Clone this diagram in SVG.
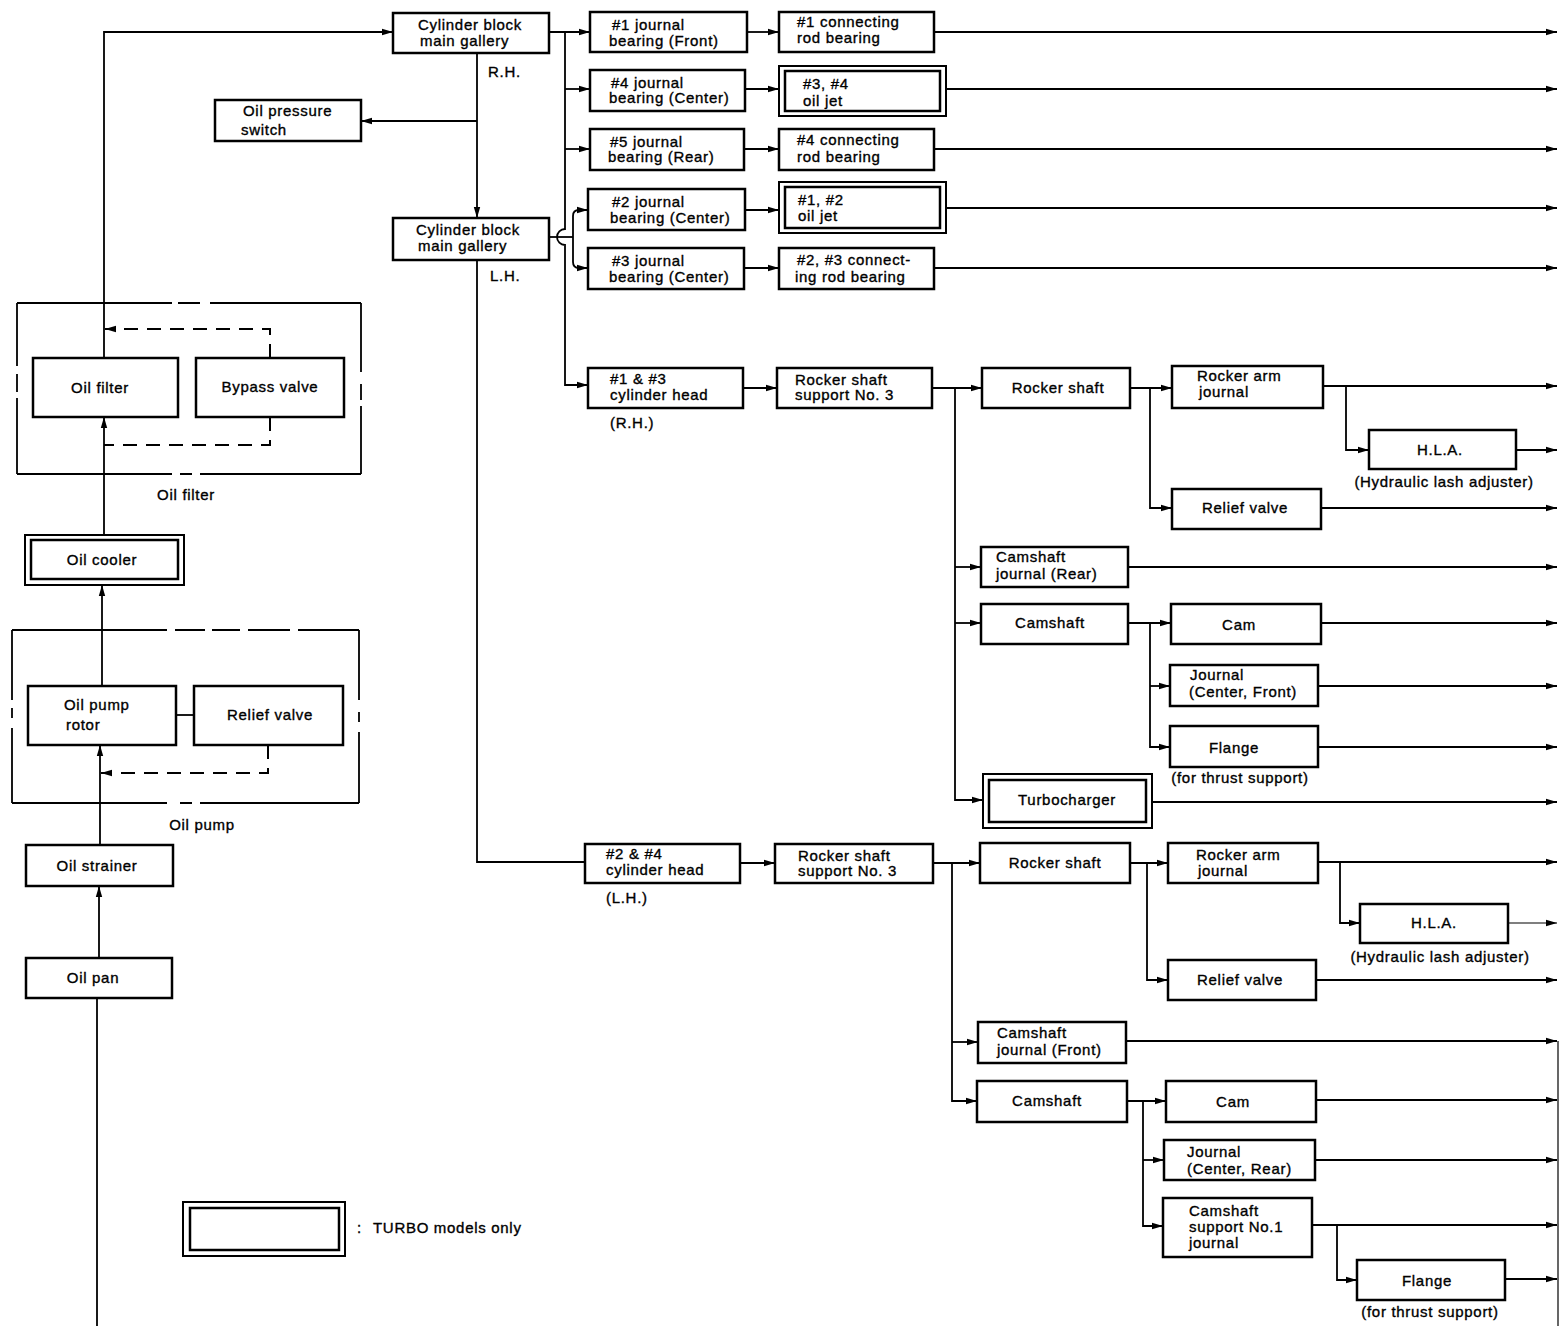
<svg xmlns="http://www.w3.org/2000/svg" width="1568" height="1326" viewBox="0 0 1568 1326">
<style>
.box{fill:#fff;stroke:#000;stroke-width:2.5}
.ob{fill:#fff;stroke:#000;stroke-width:2}
.ib{fill:none;stroke:#000;stroke-width:2.5}
.ln{fill:none;stroke:#000;stroke-width:1.8}
.thin{fill:none;stroke:#000;stroke-width:1.2}
.dash{fill:none;stroke:#000;stroke-width:2;stroke-dasharray:14 9}
.grp{fill:none;stroke:#000;stroke-width:1.8}
text{font-family:"Liberation Sans",Arial,sans-serif;font-size:15px;letter-spacing:0.7px;fill:#000;stroke:#000;stroke-width:0.35}
.c{text-anchor:middle}
</style>
<defs>
<marker id="a" markerUnits="userSpaceOnUse" markerWidth="13" markerHeight="9" refX="11" refY="4.5" orient="auto">
<path d="M0,1.3 L11,4.5 L0,7.7 Z" fill="#000"/>
</marker>
</defs>
<rect width="1568" height="1326" fill="#fff"/>

<g id="connectors">
<path class="ln" d="M97,1326 V998"/>
<path class="ln" d="M99,958 V886" marker-end="url(#a)"/>
<path class="ln" d="M100,845 V745" marker-end="url(#a)"/>
<path class="dash" d="M268,745 V773 H101" marker-end="url(#a)"/>
<path class="ln" d="M176,715 H194"/>
<path class="ln" d="M102,686 V585" marker-end="url(#a)"/>
<path class="ln" d="M104,535 V417" marker-end="url(#a)"/>
<path class="dash" d="M270,417 V445 H104"/>
<path class="dash" d="M270,358 V329 H105" marker-end="url(#a)"/>
<path class="ln" d="M104,358 V32 H393" marker-end="url(#a)"/>
<path class="ln" d="M477,53 V218" marker-end="url(#a)"/>
<path class="ln" d="M477,121 H361" marker-end="url(#a)"/>
<path class="ln" d="M549,32 H590" marker-end="url(#a)"/>
<path class="ln" d="M565,32 V229 A8,8 0 0 0 565,245 V385 H588" marker-end="url(#a)"/>
<path class="ln" d="M565,89 H590" marker-end="url(#a)"/>
<path class="ln" d="M565,149 H590" marker-end="url(#a)"/>
<path class="ln" d="M549,237 H573"/>
<path class="ln" d="M573,237 V216 Q573,210 579,210 H588" marker-end="url(#a)"/>
<path class="ln" d="M573,237 V262 Q573,268 579,268 H588" marker-end="url(#a)"/>
<path class="ln" d="M747,32 H779" marker-end="url(#a)"/>
<path class="ln" d="M745,89 H779" marker-end="url(#a)"/>
<path class="ln" d="M744,149 H779" marker-end="url(#a)"/>
<path class="ln" d="M745,210 H779" marker-end="url(#a)"/>
<path class="ln" d="M744,268 H779" marker-end="url(#a)"/>
<path class="ln" d="M934,32 H1557" marker-end="url(#a)"/>
<path class="ln" d="M946,89 H1557" marker-end="url(#a)"/>
<path class="ln" d="M934,149 H1557" marker-end="url(#a)"/>
<path class="ln" d="M946,208 H1557" marker-end="url(#a)"/>
<path class="ln" d="M934,268 H1557" marker-end="url(#a)"/>
<path class="ln" d="M477,260 V862 H585"/>
<path class="ln" d="M743,388 H777" marker-end="url(#a)"/>
<path class="ln" d="M932,388 H982" marker-end="url(#a)"/>
<path class="ln" d="M955,388 V800 H983" marker-end="url(#a)"/>
<path class="ln" d="M955,567 H981" marker-end="url(#a)"/>
<path class="ln" d="M955,623 H981" marker-end="url(#a)"/>
<path class="ln" d="M1130,388 H1172" marker-end="url(#a)"/>
<path class="ln" d="M1150,388 V508 H1172" marker-end="url(#a)"/>
<path class="ln" d="M1323,386 H1557" marker-end="url(#a)"/>
<path class="ln" d="M1346,386 V450 H1369" marker-end="url(#a)"/>
<path class="ln" d="M1516,450 H1557" marker-end="url(#a)"/>
<path class="ln" d="M1321,508 H1557" marker-end="url(#a)"/>
<path class="ln" d="M1128,567 H1557" marker-end="url(#a)"/>
<path class="ln" d="M1128,623 H1171" marker-end="url(#a)"/>
<path class="ln" d="M1150,623 V747 H1170" marker-end="url(#a)"/>
<path class="ln" d="M1150,686 H1170" marker-end="url(#a)"/>
<path class="ln" d="M1321,623 H1557" marker-end="url(#a)"/>
<path class="ln" d="M1318,686 H1557" marker-end="url(#a)"/>
<path class="ln" d="M1318,747 H1557" marker-end="url(#a)"/>
<path class="ln" d="M1152,802 H1557" marker-end="url(#a)"/>
<path class="ln" d="M740,863 H775" marker-end="url(#a)"/>
<path class="ln" d="M933,863 H980" marker-end="url(#a)"/>
<path class="ln" d="M952,863 V1101 H977" marker-end="url(#a)"/>
<path class="ln" d="M952,1042 H978" marker-end="url(#a)"/>
<path class="ln" d="M1130,863 H1168" marker-end="url(#a)"/>
<path class="ln" d="M1147,863 V980 H1168" marker-end="url(#a)"/>
<path class="ln" d="M1318,862 H1557" marker-end="url(#a)"/>
<path class="ln" d="M1340,862 V923 H1360" marker-end="url(#a)"/>
<path class="thin" d="M1508,923 H1557" marker-end="url(#a)"/>
<path class="ln" d="M1316,980 H1557" marker-end="url(#a)"/>
<path class="ln" d="M1126,1041 H1557" marker-end="url(#a)"/>
<path class="ln" d="M1127,1101 H1166" marker-end="url(#a)"/>
<path class="ln" d="M1143,1101 V1226 H1163" marker-end="url(#a)"/>
<path class="ln" d="M1143,1160 H1164" marker-end="url(#a)"/>
<path class="ln" d="M1316,1100 H1557" marker-end="url(#a)"/>
<path class="ln" d="M1315,1160 H1557" marker-end="url(#a)"/>
<path class="ln" d="M1312,1225 H1557" marker-end="url(#a)"/>
<path class="ln" d="M1337,1225 V1280 H1357" marker-end="url(#a)"/>
<path class="ln" d="M1505,1279 H1557" marker-end="url(#a)"/>
<path class="thin" d="M1558,1041 V1326"/>
</g>

<g id="oil-filter-group">
<path class="grp" d="M17,303 H172 M178,303 H200 M210,303 H361 M361,303 V372 M361,384 V400 M361,406 V474 M17,474 H172 M180,474 H192 M200,474 H361 M17,303 V366 M17,374 V392 M17,398 V474"/>
<text class="c" x="186" y="500">Oil filter</text>
</g>
<g id="oil-pump-group">
<path class="grp" d="M12,630 H167 M175,630 H205 M212,630 H240 M248,630 H290 M298,630 H359 M359,630 V700 M359,712 V722 M359,732 V803 M12,803 H167 M180,803 H192 M200,803 H359 M12,630 V700 M12,708 V718 M12,728 V803"/>
<text class="c" x="202" y="830">Oil pump</text>
</g>

<g id="n-oil-filter"><rect class="box" x="33" y="358" width="145" height="59"/><text class="c" x="100" y="393">Oil filter</text></g>
<g id="n-bypass-valve"><rect class="box" x="196" y="358" width="148" height="59"/><text class="c" x="270" y="392">Bypass valve</text></g>
<g id="n-oil-cooler"><rect class="ob" x="25" y="535" width="159" height="50"/><rect class="ib" x="31" y="540" width="147" height="39"/><text class="c" x="102" y="565">Oil cooler</text></g>
<g id="n-oil-pump-rotor"><rect class="box" x="28" y="686" width="148" height="59"/><text x="64" y="710">Oil pump</text><text x="66" y="730">rotor</text></g>
<g id="n-pump-relief"><rect class="box" x="194" y="686" width="149" height="59"/><text class="c" x="270" y="720">Relief valve</text></g>
<g id="n-oil-strainer"><rect class="box" x="26" y="845" width="147" height="41"/><text class="c" x="97" y="871">Oil strainer</text></g>
<g id="n-oil-pan"><rect class="box" x="26" y="958" width="146" height="40"/><text class="c" x="93" y="983">Oil pan</text></g>

<g id="n-gallery-rh"><rect class="box" x="393" y="13" width="156" height="40"/><text x="418" y="30">Cylinder block</text><text x="420" y="46">main gallery</text><text x="488" y="77">R.H.</text></g>
<g id="n-oil-pressure-switch"><rect class="box" x="215" y="100" width="146" height="41"/><text x="243" y="116">Oil pressure</text><text x="241" y="135">switch</text></g>
<g id="n-gallery-lh"><rect class="box" x="393" y="218" width="156" height="42"/><text x="416" y="235">Cylinder block</text><text x="418" y="251">main gallery</text><text x="490" y="281">L.H.</text></g>

<g id="n-j1"><rect class="box" x="590" y="12" width="157" height="40"/><text x="612" y="30">#1 journal</text><text x="609" y="46">bearing (Front)</text></g>
<g id="n-j4"><rect class="box" x="590" y="70" width="155" height="41"/><text x="611" y="88">#4 journal</text><text x="609" y="103">bearing (Center)</text></g>
<g id="n-j5"><rect class="box" x="590" y="129" width="154" height="41"/><text x="610" y="147">#5 journal</text><text x="608" y="162">bearing (Rear)</text></g>
<g id="n-j2"><rect class="box" x="588" y="189" width="157" height="41"/><text x="612" y="207">#2 journal</text><text x="610" y="223">bearing (Center)</text></g>
<g id="n-j3"><rect class="box" x="588" y="248" width="156" height="41"/><text x="612" y="266">#3 journal</text><text x="609" y="282">bearing (Center)</text></g>

<g id="n-crb1"><rect class="box" x="779" y="12" width="155" height="40"/><text x="797" y="27">#1 connecting</text><text x="797" y="43">rod bearing</text></g>
<g id="n-jet34"><rect class="ob" x="779" y="66" width="167" height="50"/><rect class="ib" x="785" y="71" width="155" height="40"/><text x="803" y="89">#3, #4</text><text x="803" y="106">oil jet</text></g>
<g id="n-crb4"><rect class="box" x="779" y="129" width="155" height="41"/><text x="797" y="145">#4 connecting</text><text x="797" y="162">rod bearing</text></g>
<g id="n-jet12"><rect class="ob" x="779" y="182" width="167" height="51"/><rect class="ib" x="785" y="187" width="155" height="41"/><text x="798" y="205">#1, #2</text><text x="798" y="221">oil jet</text></g>
<g id="n-crb23"><rect class="box" x="779" y="248" width="155" height="41"/><text x="797" y="265">#2, #3 connect-</text><text x="795" y="282">ing rod bearing</text></g>

<g id="n-head-rh"><rect class="box" x="588" y="368" width="155" height="40"/><text x="610" y="384">#1 &amp; #3</text><text x="610" y="400">cylinder head</text><text x="610" y="428">(R.H.)</text></g>
<g id="n-rss-rh"><rect class="box" x="777" y="368" width="155" height="40"/><text x="795" y="385">Rocker shaft</text><text x="795" y="400">support No. 3</text></g>
<g id="n-rs-rh"><rect class="box" x="982" y="368" width="148" height="40"/><text class="c" x="1058" y="393">Rocker shaft</text></g>
<g id="n-raj-rh"><rect class="box" x="1172" y="366" width="151" height="42"/><text x="1197" y="381">Rocker arm</text><text x="1199" y="397">journal</text></g>
<g id="n-hla-rh"><rect class="box" x="1369" y="430" width="147" height="39"/><text class="c" x="1440" y="455">H.L.A.</text><text class="c" x="1444" y="487">(Hydraulic lash adjuster)</text></g>
<g id="n-rv-rh"><rect class="box" x="1172" y="489" width="149" height="40"/><text class="c" x="1245" y="513">Relief valve</text></g>
<g id="n-cjr"><rect class="box" x="981" y="547" width="147" height="40"/><text x="996" y="562">Camshaft</text><text x="996" y="579">journal (Rear)</text></g>
<g id="n-cs-rh"><rect class="box" x="981" y="604" width="147" height="40"/><text class="c" x="1050" y="628">Camshaft</text></g>
<g id="n-cam-rh"><rect class="box" x="1171" y="604" width="150" height="40"/><text class="c" x="1239" y="630">Cam</text></g>
<g id="n-jcf"><rect class="box" x="1170" y="665" width="148" height="41"/><text x="1190" y="680">Journal</text><text x="1189" y="697">(Center, Front)</text></g>
<g id="n-flange-rh"><rect class="box" x="1170" y="726" width="148" height="41"/><text class="c" x="1234" y="753">Flange</text><text class="c" x="1240" y="783">(for thrust support)</text></g>
<g id="n-turbo"><rect class="ob" x="983" y="774" width="169" height="54"/><rect class="ib" x="989" y="780" width="157" height="42"/><text class="c" x="1067" y="805">Turbocharger</text></g>

<g id="n-head-lh"><rect class="box" x="585" y="844" width="155" height="39"/><text x="606" y="859">#2 &amp; #4</text><text x="606" y="875">cylinder head</text><text x="606" y="903">(L.H.)</text></g>
<g id="n-rss-lh"><rect class="box" x="775" y="844" width="158" height="39"/><text x="798" y="861">Rocker shaft</text><text x="798" y="876">support No. 3</text></g>
<g id="n-rs-lh"><rect class="box" x="980" y="843" width="150" height="40"/><text class="c" x="1055" y="868">Rocker shaft</text></g>
<g id="n-raj-lh"><rect class="box" x="1168" y="843" width="150" height="40"/><text x="1196" y="860">Rocker arm</text><text x="1198" y="876">journal</text></g>
<g id="n-hla-lh"><rect class="box" x="1360" y="904" width="148" height="39"/><text class="c" x="1434" y="928">H.L.A.</text><text class="c" x="1440" y="962">(Hydraulic lash adjuster)</text></g>
<g id="n-rv-lh"><rect class="box" x="1168" y="960" width="148" height="40"/><text class="c" x="1240" y="985">Relief valve</text></g>
<g id="n-cjf"><rect class="box" x="978" y="1022" width="148" height="41"/><text x="997" y="1038">Camshaft</text><text x="997" y="1055">journal (Front)</text></g>
<g id="n-cs-lh"><rect class="box" x="977" y="1081" width="150" height="41"/><text class="c" x="1047" y="1106">Camshaft</text></g>
<g id="n-cam-lh"><rect class="box" x="1166" y="1081" width="150" height="41"/><text class="c" x="1233" y="1107">Cam</text></g>
<g id="n-jcr"><rect class="box" x="1164" y="1140" width="151" height="40"/><text x="1187" y="1157">Journal</text><text x="1187" y="1174">(Center, Rear)</text></g>
<g id="n-csj"><rect class="box" x="1163" y="1198" width="149" height="59"/><text x="1189" y="1216">Camshaft</text><text x="1189" y="1232">support No.1</text><text x="1189" y="1248">journal</text></g>
<g id="n-flange-lh"><rect class="box" x="1357" y="1260" width="148" height="40"/><text class="c" x="1427" y="1286">Flange</text><text class="c" x="1430" y="1317">(for thrust support)</text></g>

<g id="legend"><rect class="ob" x="183" y="1202" width="162" height="54"/><rect class="ib" x="190" y="1208" width="149" height="42"/><text x="357" y="1233">:</text><text x="373" y="1233">TURBO models only</text></g>
</svg>
